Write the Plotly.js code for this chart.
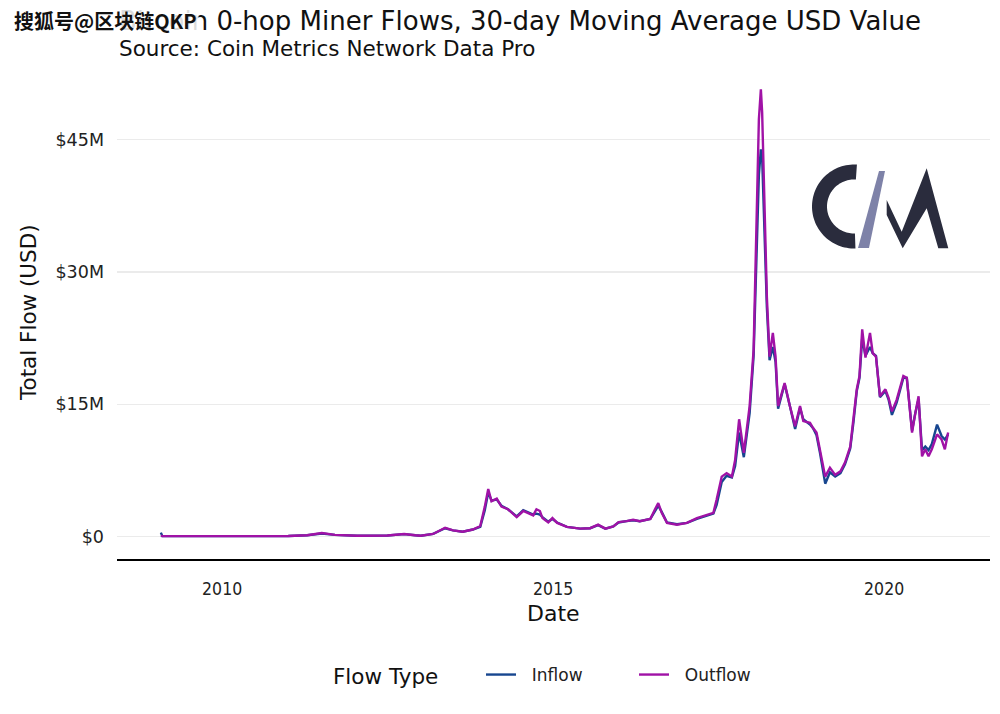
<!DOCTYPE html>
<html>
<head>
<meta charset="utf-8">
<script src="https://cdn.plot.ly/plotly-3.0.1.min.js"></script>
<style>html,body{margin:0;padding:0;background:#fff;}#chart{width:1000px;height:714px;}</style>
</head>
<body>
<div id="chart"></div>
<script>
// ---- data (values in USD millions, 30-day moving average) ----
const dates = [
"2009-01-28","2009-02-05","2009-08-01","2010-06-01","2011-01-01","2011-04-15","2011-07-05","2011-09-15",
"2012-01-15","2012-07-01","2012-10-01","2012-12-01","2013-01-01","2013-03-10","2013-05-15","2013-06-28",
"2013-08-20","2013-10-15","2013-11-25","2013-12-20","2014-01-08","2014-01-26","2014-02-24","2014-03-22",
"2014-04-27","2014-06-14","2014-07-20","2014-09-13","2014-10-01","2014-10-20","2014-11-03","2014-12-05",
"2014-12-28","2015-01-23","2015-03-18","2015-05-30","2015-07-24","2015-09-06","2015-10-16","2015-11-29",
"2015-12-28","2016-02-10","2016-03-17","2016-04-23","2016-06-20","2016-07-16","2016-08-03","2016-08-22",
"2016-09-20","2016-11-14","2017-01-08","2017-03-04","2017-04-20","2017-06-03","2017-06-21","2017-07-19",
"2017-08-15","2017-09-13","2017-10-01","2017-10-23","2017-11-18","2017-12-20","2018-01-11","2018-02-09",
"2018-02-20","2018-02-27","2018-03-25","2018-04-09","2018-04-27","2018-05-12","2018-05-26","2018-07-01",
"2018-07-30","2018-08-28","2018-09-24","2018-10-12","2018-11-18","2018-12-05","2018-12-24","2019-01-12",
"2019-02-10","2019-03-08","2019-04-06","2019-05-05","2019-05-30","2019-06-28","2019-07-16","2019-08-03",
"2019-08-18","2019-09-02","2019-09-20","2019-10-15","2019-10-30","2019-11-17","2019-12-09","2020-01-08",
"2020-01-26","2020-02-13","2020-03-10","2020-04-16","2020-05-05","2020-06-03","2020-06-21","2020-07-09",
"2020-07-28","2020-08-15","2020-09-02","2020-09-20","2020-10-19","2020-11-13","2020-12-01","2020-12-19"
];
const inflow = [
0.45,0.05,0.05,0.05,0.06,0.15,0.35,0.2,
0.1,0.12,0.28,0.15,0.1,0.3,0.95,0.7,
0.55,0.8,1.1,3.0,5.0,4.1,4.2,3.5,
3.1,2.3,3.0,2.5,2.6,2.5,2.2,1.7,
2.0,1.6,1.1,0.9,0.95,1.3,0.9,1.15,
1.6,1.75,1.85,1.75,2.0,2.9,3.5,2.8,
1.6,1.4,1.55,2.0,2.3,2.6,3.6,6.2,
6.9,6.7,8.0,11.8,9.0,14.0,20.5,41.0,
43.9,43.0,26.0,20.0,21.5,19.8,14.5,17.3,
14.8,12.2,14.6,13.3,12.7,12.3,11.5,9.5,
6.0,7.3,6.8,7.2,8.2,10.0,13.0,16.5,
18.0,22.5,20.5,21.5,20.8,20.5,15.8,16.5,
15.5,13.8,15.2,18.0,18.0,12.0,14.0,15.6,
9.8,10.2,9.8,10.5,12.7,11.4,11.0,11.6
];
const outflow = [
0.1,0.05,0.05,0.05,0.06,0.15,0.4,0.2,
0.1,0.12,0.3,0.15,0.1,0.3,1.0,0.7,
0.55,0.8,1.2,3.4,5.4,4.0,4.3,3.4,
3.1,2.2,2.9,2.4,3.1,2.9,2.1,1.6,
2.1,1.55,1.1,0.9,0.95,1.35,0.9,1.15,
1.65,1.75,1.9,1.75,2.0,3.1,3.8,2.7,
1.55,1.35,1.55,2.1,2.4,2.7,4.2,6.8,
7.2,6.8,8.7,13.3,9.5,14.8,21.2,47.3,
50.7,48.1,27.2,20.4,23.1,20.4,14.8,17.4,
14.8,12.5,14.8,13.1,12.9,12.3,11.8,9.9,
6.8,7.8,7.0,7.4,8.4,10.2,13.3,16.7,
18.2,23.5,20.3,23.1,20.8,20.4,15.9,16.7,
15.7,14.2,15.5,18.2,18.0,11.8,14.0,15.9,
9.1,9.9,9.1,9.9,11.6,11.0,9.9,11.8
];
const seriesNames = ["Inflow","Outflow"];
const seriesColors = ["#17468f","#a012a6"];
const yTickVals = [0,15,30,45];
const yTickText = ["$0","$15M","$30M","$45M"];
const xTickVals = ["2010-01-01","2015-01-01","2020-01-01"];
const xTickText = ["2010","2015","2020"];

// ---- layout helpers (pixel -> paper) ----
const L = 117, R = 990, T = 67, B = 559;
const px = x => (x - L) / (R - L);
const py = y => (B - y) / (B - T);
function path(pts){ return "M" + pts.map(p => px(p[0]).toFixed(5) + "," + py(p[1]).toFixed(5)).join("L") + "Z"; }

// CM logo geometry (decoration)
function cPath(){
  const cx = 854, cy = 206.5, ro = 42, ri = 27;
  const pts = [];
  for (let a = 86; a <= 272; a += 3) { const r = a*Math.PI/180; pts.push([cx + ro*Math.cos(r), cy - ro*Math.sin(r)]); }
  for (let a = 272; a >= 86; a -= 3) { const r = a*Math.PI/180; pts.push([cx + ri*Math.cos(r), cy - ri*Math.sin(r)]); }
  return path(pts);
}
const shapes = [
  {type:"path", xref:"paper", yref:"paper", path:cPath(), fillcolor:"#2a2c3d", line:{width:0}},
  {type:"path", xref:"paper", yref:"paper", path:path([[858,248],[869,248],[885,171],[879,171]]), fillcolor:"#7e82a8", line:{width:0}},
  {type:"path", xref:"paper", yref:"paper", path:path([[886.7,200],[901.7,231.7],[926.7,168.3],[948.3,248.3],[938.3,248.3],[926.7,208.3],[902.7,248.3],[886.7,215]]), fillcolor:"#2a2c3d", line:{width:0}}
];

const traces = [inflow, outflow].map((vals, i) => ({
  type:"scatter", mode:"lines", x:dates, y:vals, name:"\u00a0\u00a0" + seriesNames[i],
  line:{color:seriesColors[i], width:2.4}
}));

const F = "DejaVu Sans, sans-serif";
const layout = {
  width:1000, height:714,
  margin:{l:L, r:1000-R, t:T, b:714-B},
  paper_bgcolor:"#fff", plot_bgcolor:"#fff",
  font:{family:F, color:"#222"},
  showlegend:true,
  xaxis:{
    type:"date", range:["2008-05-31","2021-08-07"],
    tickvals:xTickVals, ticktext:xTickText,
    showgrid:false, zeroline:false,
    showline:true, linecolor:"#000", linewidth:2,
    ticks:"", ticklabelstandoff:13,
    tickfont:{family:"DejaVu Sans Condensed, DejaVu Sans, sans-serif", size:17.5, color:"#222"}
  },
  yaxis:{
    range:[-2.54, 53.24],
    tickvals:yTickVals, ticktext:yTickText,
    showgrid:true, gridcolor:"#ebebeb", gridwidth:1.5,
    zeroline:false, showline:false, ticks:"", ticklabelstandoff:12,
    tickfont:{family:F, size:17.5, color:"#222"}
  },
  legend:{
    orientation:"h", x:px(481), xanchor:"left", y:py(675), yanchor:"middle",
    font:{family:F, size:17, color:"#222"},
    entrywidth:108, entrywidthmode:"pixels", tracegroupgap:0
  },
  shapes:shapes,
  annotations:[
    {xref:"paper", yref:"paper", x:0, y:py(21), xanchor:"left", yanchor:"middle", showarrow:false,
     text:"Bitcoin 0-hop Miner Flows, 30-day Moving Average USD Value", font:{family:F, size:26, color:"#111"}},
    {xref:"paper", yref:"paper", x:0, y:py(49), xanchor:"left", yanchor:"middle", showarrow:false,
     text:"Source: Coin Metrics Network Data Pro", font:{family:F, size:21.5, color:"#111"}},
    {xref:"paper", yref:"paper", x:px(12), y:py(21), xanchor:"left", yanchor:"middle", showarrow:false,
     text:"<b>搜狐号@区块链QKP</b>", bgcolor:"rgba(255,255,255,0.85)", font:{family:"Noto Sans CJK SC, sans-serif", size:20, color:"#111"}},
    {xref:"paper", yref:"paper", x:px(28), y:0.5, xanchor:"center", yanchor:"middle", textangle:-90, showarrow:false,
     text:"Total Flow (USD)", font:{family:F, size:21.5, color:"#111"}},
    {xref:"paper", yref:"paper", x:0.5, y:py(613), xanchor:"center", yanchor:"middle", showarrow:false,
     text:"Date", font:{family:F, size:22, color:"#111"}},
    {xref:"paper", yref:"paper", x:px(385), y:py(676), xanchor:"center", yanchor:"middle", showarrow:false,
     text:"Flow Type", font:{family:F, size:21.5, color:"#111"}}
  ]
};
Plotly.newPlot("chart", traces, layout, {displayModeBar:false, staticPlot:true});
</script>
</body>
</html>
